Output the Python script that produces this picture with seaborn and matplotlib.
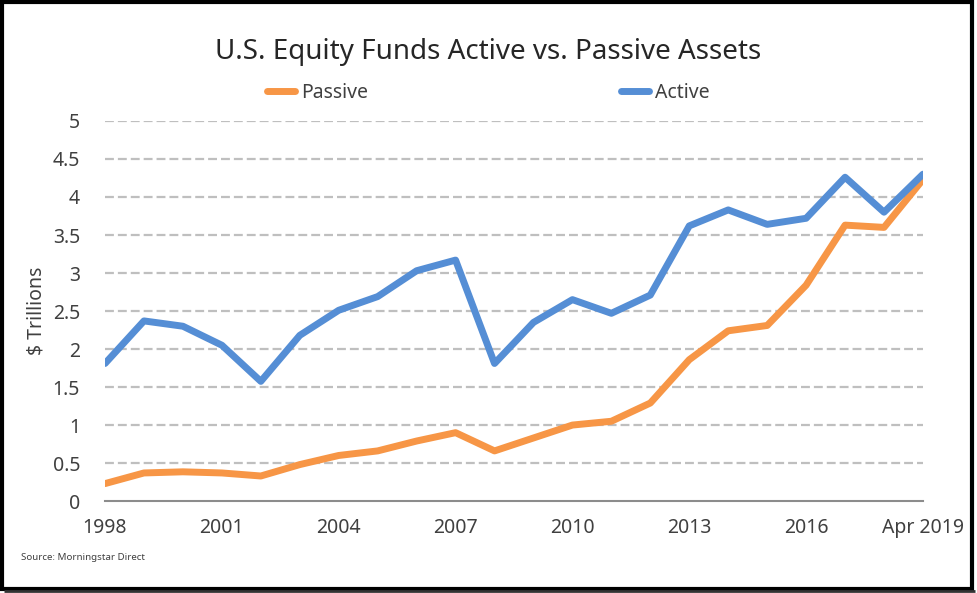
import pandas as pd
import matplotlib
matplotlib.use('Agg')
import matplotlib.pyplot as plt
import seaborn as sns
from matplotlib.patches import Rectangle

# data ($ trillions)
years = ['1998', '1999', '2000', '2001', '2002', '2003', '2004', '2005', '2006', '2007', '2008',
         '2009', '2010', '2011', '2012', '2013', '2014', '2015', '2016', '2017', '2018', 'Apr 2019']
passive = [0.23, 0.37, 0.385, 0.37, 0.33, 0.48, 0.60, 0.66, 0.79, 0.90, 0.66,
           0.83, 1.00, 1.05, 1.29, 1.86, 2.24, 2.31, 2.84, 3.63, 3.60, 4.23]
active = [1.81, 2.37, 2.30, 2.05, 1.575, 2.18, 2.51, 2.69, 3.03, 3.17, 1.81,
          2.35, 2.65, 2.47, 2.71, 3.62, 3.83, 3.64, 3.72, 4.26, 3.80, 4.30]
tick_years = ['1998', '2001', '2004', '2007', '2010', '2013', '2016', 'Apr 2019']

df = pd.DataFrame({'pos': list(range(len(years))) * 2,
                   'value': passive + active,
                   'series': ['Passive'] * len(years) + ['Active'] * len(years)})

sns.set_style('white')
plt.rcParams['font.family'] = ['Noto Sans', 'DejaVu Sans']
plt.rcParams['font.stretch'] = 'extra-condensed'
plt.rcParams['font.weight'] = 'light'

fig = plt.figure(figsize=(9.77, 5.93), dpi=100)
ax = fig.add_axes([0.1075, 0.155, 0.8372, 0.641])

sns.lineplot(data=df, x='pos', y='value', hue='series',
             palette={'Passive': '#F79646', 'Active': '#558ED5'},
             linewidth=5, ax=ax, legend=True, zorder=3)

ax.set_xlim(0, len(years) - 1)
ax.set_ylim(0, 5)
ax.set_yticks([0, 0.5, 1, 1.5, 2, 2.5, 3, 3.5, 4, 4.5, 5])
ax.set_yticklabels(['0', '0.5', '1', '1.5', '2', '2.5', '3', '3.5', '4', '4.5', '5'])
ax.set_xticks([years.index(y) for y in tick_years])
ax.set_xticklabels(tick_years)
ax.tick_params(axis='both', length=0, labelsize=14, colors='#404040')
ax.tick_params(axis='x', pad=12)
ax.tick_params(axis='y', pad=18)

for v in [0.5, 1, 1.5, 2, 2.5, 3, 3.5, 4, 4.5, 5]:
    ax.axhline(v, color='#BFBFBF', linewidth=1.6, linestyle=(0, (4, 1.8)), zorder=1)

for s in ['top', 'right', 'left']:
    ax.spines[s].set_visible(False)
ax.spines['bottom'].set_color('#8C8C8C')
ax.spines['bottom'].set_linewidth(1.5)

ax.set_xlabel('')
ax.set_ylabel('$ Trillions', fontsize=14, color='#404040', labelpad=4)

leg = ax.legend(loc='center', bbox_to_anchor=(0.5, 0.843), bbox_transform=fig.transFigure,
                ncol=2, frameon=False, fontsize=14, handlelength=1.45, columnspacing=13,
                handletextpad=0.3)
for t in leg.get_texts():
    t.set_color('#404040')
for h in leg.get_lines():
    h.set_solid_capstyle('round')

fig.text(0.5, 0.912, 'U.S. Equity Funds Active vs. Passive Assets', ha='center', va='center',
         fontsize=20, color='#262626')
fig.text(0.021, 0.06, 'Source: Morningstar Direct', fontsize=7, color='#404040', va='center')

# black frame round the whole picture
fig.patches.append(Rectangle((0.002, 0.006), 0.993, 0.991, transform=fig.transFigure,
                             fill=False, edgecolor='black', linewidth=3))
fig.patches.append(Rectangle((0.004, 0.003), 0.994, 0.001, transform=fig.transFigure,
                             fill=True, color='#333333', linewidth=2))

fig.savefig('out.png', dpi=100)
